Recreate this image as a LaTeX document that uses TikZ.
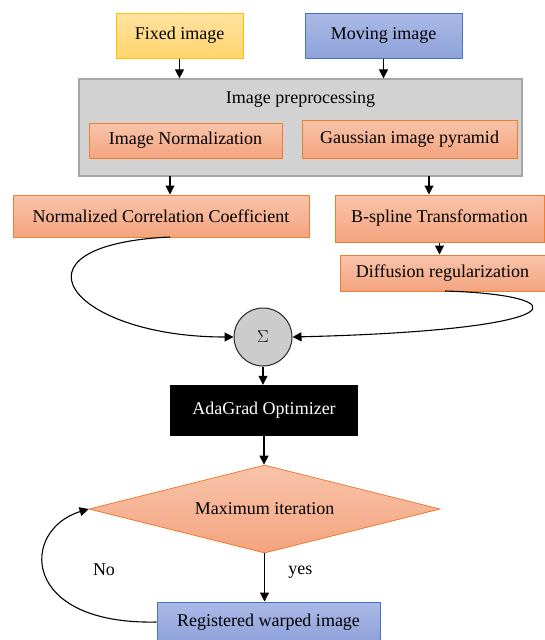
\documentclass[tikz,border=0pt]{standalone}
\usepackage{fontspec}
\setmainfont{Liberation Serif}
\usepackage{tikz}
\usetikzlibrary{arrows.meta, shapes.geometric, positioning}
\definecolor{orline}{HTML}{ED7D31}
\definecolor{ortop}{HTML}{F8C4AA}
\definecolor{orbot}{HTML}{F4A47F}
\definecolor{blline}{HTML}{4472C4}
\definecolor{bltop}{HTML}{AAB9E6}
\definecolor{blbot}{HTML}{8EA2DA}
\definecolor{ylline}{HTML}{FFC000}
\definecolor{yltop}{HTML}{FFE3A0}
\definecolor{ylbot}{HTML}{FFD46E}
\tikzset{
  obox/.style={rectangle,draw=orline,line width=1pt,top color=ortop,bottom color=orbot,inner sep=0pt,align=center},
  bbox/.style={rectangle,draw=blline,line width=1pt,top color=bltop,bottom color=blbot,inner sep=0pt,align=center},
  ybox/.style={rectangle,draw=ylline,line width=1pt,top color=yltop,bottom color=ylbot,inner sep=0pt,align=center},
  gbox/.style={rectangle,draw=gray!70,line width=1.2pt,fill=gray!35,inner sep=0pt},
  kbox/.style={rectangle,fill=black,text=white,inner sep=0pt,align=center},
  sumnode/.style={circle,draw=gray!30!black,line width=1pt,fill=gray!40,minimum size=58pt,inner sep=0pt},
  decision/.style={diamond,draw=orline,line width=0.8pt,top color=ortop,bottom color=orbot,inner sep=0pt,aspect=4,minimum width=351pt,minimum height=88pt},
  arr/.style={-{Triangle[length=9pt,width=9pt]},line width=1.1pt}
}

\begin{document}
\begin{tikzpicture}[x=1pt,y=1pt,every node/.style={font=\fontsize{18}{21}\selectfont}]
  \useasboundingbox (0,0) rectangle (545,-640);

  % inputs
  \node[ybox,minimum width=127pt,minimum height=45pt] (fix) at (179.5,-35.5) {Fixed image};
  \node[bbox,minimum width=157pt,minimum height=45pt] (mov) at (383.5,-35.5) {Moving image};

  % preprocessing block
  \node[gbox,minimum width=443pt,minimum height=97pt] (pre) at (300.5,-127.5) {};
  \node (pretitle) at (300.5,-99) {Image preprocessing};
  \node[obox,minimum width=193pt,minimum height=35pt] (norm) at (185.5,-140.5) {Image Normalization};
  \node[obox,minimum width=215pt,minimum height=38pt] (pyr) at (409.5,-139) {Gaussian image pyramid};

  \coordinate (fixin) at (fix.south |- pre.north);
  \coordinate (movin) at (mov.south |- pre.north);
  \draw[arr] (fix.south) -- (fixin);
  \draw[arr] (mov.south) -- (movin);

  % metric and transform
  \node[obox,minimum width=296pt,minimum height=42pt] (ncc) at (161,-216) {Normalized Correlation Coefficient};
  \node[obox,minimum width=209pt,minimum height=47pt] (bsp) at (439.5,-218.5) {B-spline Transformation};
  \node[obox,minimum width=205pt,minimum height=36pt] (dif) at (442.5,-273) {Diffusion regularization};

  \coordinate (preL) at (170,-176);
  \coordinate (preR) at (429,-176);
  \draw[arr] (preL) -- (preL |- ncc.north);
  \draw[arr] (preR) -- (preR |- bsp.north);
  \draw[arr] (bsp.south) -- (bsp.south |- dif.north);

  % sum
  \node[sumnode] (sum) at (263,-337) {$\Sigma$};
  \coordinate (nccout) at (170,-237);
  \coordinate (difout) at (445,-291);
  \draw[arr] (nccout) .. controls (0,-245) and (70,-337) .. (sum.west);
  \draw[arr] (difout) .. controls (580,-295) and (580,-330) .. (sum.east);

  % optimizer and loop
  \node[kbox,minimum width=188pt,minimum height=51pt] (ada) at (264,-410.5) {AdaGrad Optimizer};
  \draw[arr] (sum.south) -- (sum.south |- ada.north);

  \node[decision] (maxit) at (264.5,-509) {Maximum iteration};
  \draw[arr] (ada.south) -- (ada.south |- maxit.north);

  \node[bbox,minimum width=223pt,minimum height=40pt] (reg) at (268.5,-622) {Registered warped image};
  \draw[arr] (maxit.south) -- node[right=20pt,pos=0.4] (yes) {yes} (maxit.south |- reg.north);

  \draw[arr] (reg.west) .. controls (20,-625) and (20,-530) .. (maxit.west);
  \node (no) at (104,-570) {No};
\end{tikzpicture}
\end{document}
